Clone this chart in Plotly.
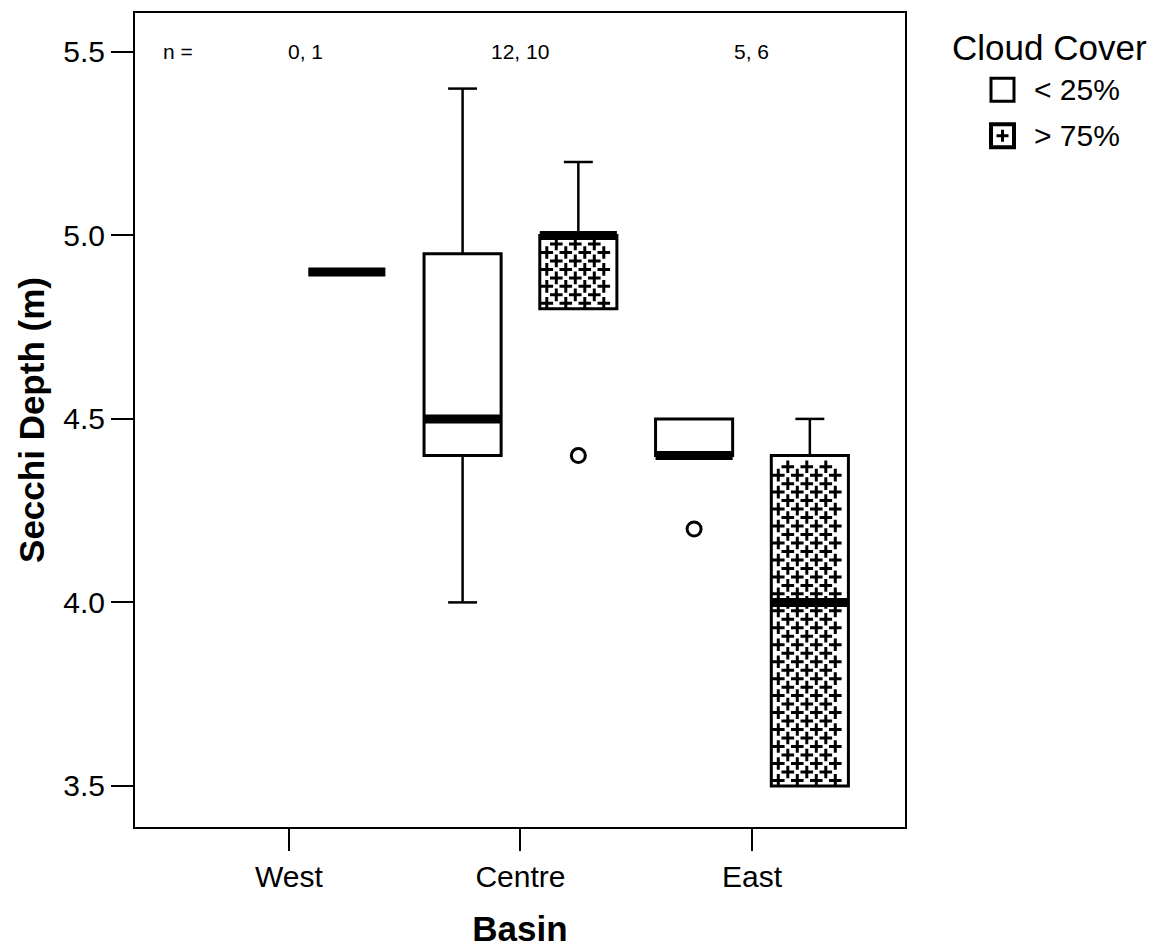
import plotly.graph_objects as go

# ---------------- data ----------------
basins = ["West", "Centre", "East"]
covers = ["< 25%", "> 75%"]
n_labels = ["0, 1", "12, 10", "5, 6"]
y_ticks = [3.5, 4.0, 4.5, 5.0, 5.5]

# Cloud cover < 25 %
lt_q1 = [None, 4.4, 4.4]
lt_med = [None, 4.5, 4.4]
lt_q3 = [None, 4.95, 4.5]
lt_lo = [None, 4.0, 4.4]
lt_hi = [None, 5.4, 4.5]
lt_out = [[], [], [4.2]]

# Cloud cover > 75 %
gt_q1 = [4.9, 4.8, 3.5]
gt_med = [4.9, 5.0, 4.0]
gt_q3 = [4.9, 5.0, 4.4]
gt_lo = [4.9, 4.8, 3.5]
gt_hi = [4.9, 5.2, 4.5]
gt_out = [[], [4.4], []]

# ---------------- styling ----------------
FONT = "Liberation Sans, Arial, Helvetica, sans-serif"
BOX_W = 0.333
CAP_W = 0.125
OFFSETS = [-0.25, 0.25]
X_RANGE = [-0.665, 2.661]
Y_RANGE = [3.388, 5.606]
W, H = 1164, 941
PL, PR, PT, PB = 127, 897, 3, 819   # plot box in figure pixels

# hatch lattice spacing (in pixels) for the "+" texture
HATCH_DX, HATCH_DY = 19.0, 8.5
ux = (PR - PL) / (X_RANGE[1] - X_RANGE[0])
uy = (PB - PT) / (Y_RANGE[1] - Y_RANGE[0])

fig = go.Figure()


def add_group(q1, med, q3, lo, hi, out, offset, patterned):
    bx, bbase, bh = [], [], []
    wx, wy = [], []
    mx, my = [], []
    ox, oy = [], []
    hx, hy = [], []
    for i in range(len(q1)):
        if q1[i] is None:
            continue
        c = i + offset
        if q3[i] > q1[i]:
            bx.append(c)
            bbase.append(q1[i])
            bh.append(q3[i] - q1[i])
            if patterned:
                # staggered lattice of "+" texture inside the box
                left = c - BOX_W / 2
                wpx = BOX_W * ux
                hpx = (q3[i] - q1[i]) * uy
                row = 0
                yy = 5.5
                while yy < hpx - 4:
                    shift = 0 if row % 2 == 0 else HATCH_DX / 2
                    xx = 7 + shift
                    while xx < wpx - 5:
                        hx.append(left + xx / ux)
                        hy.append(q1[i] + yy / uy)
                        xx += HATCH_DX
                    yy += HATCH_DY
                    row += 1
        if hi[i] > q3[i]:
            wx += [c, c, None, c - CAP_W / 2, c + CAP_W / 2, None]
            wy += [q3[i], hi[i], None, hi[i], hi[i], None]
        if lo[i] < q1[i]:
            wx += [c, c, None, c - CAP_W / 2, c + CAP_W / 2, None]
            wy += [q1[i], lo[i], None, lo[i], lo[i], None]
        mx += [c - BOX_W / 2, c + BOX_W / 2, None]
        my += [med[i], med[i], None]
        for v in out[i]:
            ox.append(c)
            oy.append(v)

    fig.add_trace(go.Bar(x=bx, y=bh, base=bbase, width=BOX_W,
                         marker=dict(color="white",
                                     line=dict(color="black", width=3)),
                         showlegend=False, hoverinfo="skip"))
    if hx:
        fig.add_trace(go.Scatter(x=hx, y=hy, mode="markers",
                                 marker=dict(symbol="cross-thin-open", size=9,
                                             color="black",
                                             line=dict(color="black", width=3)),
                                 showlegend=False, hoverinfo="skip"))
    fig.add_trace(go.Scatter(x=wx, y=wy, mode="lines",
                             line=dict(color="black", width=2.5),
                             showlegend=False, hoverinfo="skip"))
    fig.add_trace(go.Scatter(x=mx, y=my, mode="lines",
                             line=dict(color="black", width=9),
                             showlegend=False, hoverinfo="skip"))
    if ox:
        fig.add_trace(go.Scatter(x=ox, y=oy, mode="markers",
                                 marker=dict(symbol="circle-open", size=14,
                                             color="black", line=dict(width=3)),
                                 showlegend=False, hoverinfo="skip"))


add_group(lt_q1, lt_med, lt_q3, lt_lo, lt_hi, lt_out, OFFSETS[0], False)
add_group(gt_q1, gt_med, gt_q3, gt_lo, gt_hi, gt_out, OFFSETS[1], True)

# n = annotations
fig.add_annotation(x=-0.48, y=5.5, xref="x", yref="y", text="n =",
                   showarrow=False, font=dict(family=FONT, size=21, color="black"))
n_x = [0.07, 1.0, 2.0]
for xx, lab in zip(n_x, n_labels):
    fig.add_annotation(x=xx, y=5.5, xref="x", yref="y", text=lab,
                       showarrow=False, font=dict(family=FONT, size=21, color="black"))


# manual legend (paper coordinates derived from plot box; reference pixels
# are measured in page coordinates, 8px body margin removed)
def px(xp):
    return (xp - 8 - PL) / (PR - PL)


def py(yp):
    return (PB - (yp - 8)) / (PB - PT)


fig.add_annotation(x=px(950), y=py(46), xref="paper", yref="paper",
                   text="Cloud Cover", showarrow=False, xanchor="left",
                   yanchor="middle", font=dict(family=FONT, size=35, color="black"))
leg_y = [88, 134]
for k, (lab, yc) in enumerate(zip(covers, leg_y)):
    fig.add_shape(type="rect", xref="paper", yref="paper",
                  x0=px(991), x1=px(1014), y0=py(yc + 11.5), y1=py(yc - 11.5),
                  line=dict(color="black", width=3 if k == 0 else 4),
                  fillcolor="white")
    if k == 1:
        fig.add_shape(type="path", xref="paper", yref="paper",
                      path=(f"M {px(996.5)},{py(yc)} L {px(1008.5)},{py(yc)} "
                            f"M {px(1002.5)},{py(yc - 6)} L {px(1002.5)},{py(yc + 6)}"),
                      line=dict(color="black", width=3))
    fig.add_annotation(x=px(1032), y=py(yc), xref="paper", yref="paper",
                       text=lab, showarrow=False, xanchor="left", yanchor="middle",
                       font=dict(family=FONT, size=30, color="black"))

fig.update_layout(
    width=W, height=H,
    margin=dict(l=PL, r=W - PR, t=PT, b=H - PB),
    plot_bgcolor="white", paper_bgcolor="white",
    barmode="overlay",
    font=dict(family=FONT, color="black"),
    showlegend=False,
)
fig.update_xaxes(
    range=X_RANGE, tickvals=[0, 1, 2], ticktext=basins,
    showgrid=False, zeroline=False, showline=True, mirror=True,
    linecolor="black", linewidth=2, ticks="outside", ticklen=22, tickwidth=2,
    tickcolor="black", tickfont=dict(family=FONT, size=30, color="black"),
    title=dict(text="<b>Basin</b>", font=dict(family=FONT, size=35, color="black"),
               standoff=24),
)
fig.update_yaxes(
    range=Y_RANGE, tickvals=y_ticks, ticktext=[f"{v:.1f}" for v in y_ticks],
    showgrid=False, zeroline=False, showline=True, mirror=True,
    linecolor="black", linewidth=2, ticks="outside", ticklen=22, tickwidth=2,
    tickcolor="black", tickfont=dict(family=FONT, size=30, color="black"),
    title=dict(text="<b>Secchi Depth (m)</b>",
               font=dict(family=FONT, size=35, color="black"), standoff=8),
)

fig.write_html("out.html")
